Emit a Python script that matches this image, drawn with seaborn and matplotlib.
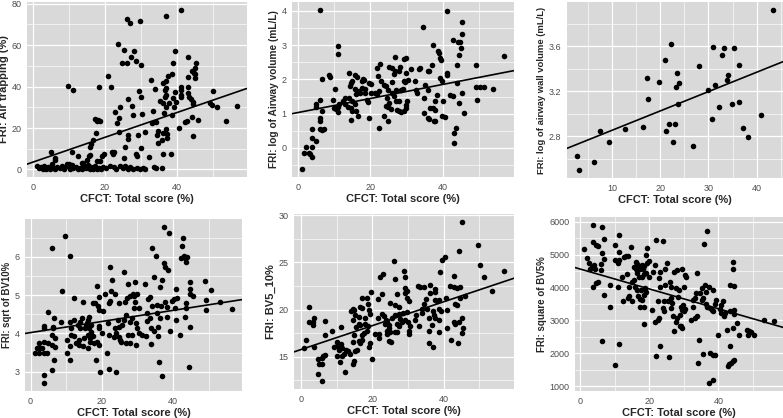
import numpy as np
import matplotlib
matplotlib.use("Agg")
import matplotlib.pyplot as plt
import seaborn as sns
from matplotlib.ticker import MultipleLocator

# (CFCT total score %, FRI value) pairs
air_trapping = [
    (41.2, 77), (37, 74), (26.2, 72.7), (26.9, 70.6), (29.6, 71.5), (23.5, 60.5), (25.2, 57.7),
    (28.1, 57.4), (39.5, 57.4), (27.3, 54.2), (43, 54.5), (24.8, 51.6), (26.1, 51.6), (28.7, 52.4),
    (30, 50.2), (39, 51.3), (45.3, 51.3), (45, 49), (44, 47.6), (44.6, 46.8), (45.1, 46), (38.7, 46),
    (43, 44.5), (45, 44), (37.4, 45), (37, 42.7), (9.9, 40.3), (11.1, 38.2), (18.5, 40), (21.7, 39.7),
    (21, 45.2), (32.8, 43), (33.9, 38.7), (29.5, 38.1), (30, 35.2), (36, 41.6), (37, 39.5), (36.6, 38.4),
    (39.5, 37.6), (41, 40), (41, 38.4), (43, 40), (43, 36.8), (43.3, 35.2), (43.9, 33.9), (44.3, 32.7),
    (44.5, 31.8), (41.2, 36), (41, 35.2), (38.9, 34.4), (39.6, 32.7), (39.2, 30), (37.7, 32.3),
    (37, 36), (35.4, 33.1), (36.1, 31.9), (36.9, 30.3), (36.6, 35.2), (26.3, 33.9), (27.6, 30.6),
    (24.3, 30), (22.9, 27.6), (33.2, 28.2), (36.5, 27.4), (27.9, 26.1), (30.2, 26.6), (23.8, 24.7),
    (23.3, 22.3), (17.4, 24.4), (18.1, 23.9), (17.9, 23.4), (18.6, 23.4), (33, 22.3), (34.3, 22.7),
    (37, 19.4), (40.4, 20.2), (44, 25.5), (45.7, 23.9), (42.3, 23.1), (42.7, 23.5), (38.7, 26.3),
    (50, 37.9), (49.2, 32), (49.7, 31), (51, 30), (56.6, 30.6), (53.6, 23.5), (44.5, 16.1),
    (34.5, 16.6), (34.7, 12.9), (34.8, 18.5), (37.3, 17.1), (36.1, 17.4), (37.2, 15), (35.8, 14.2),
    (36.2, 7.6), (38.3, 7.7), (32.3, 6.1), (31, 18.2), (29.2, 16.6), (26.4, 16.6), (24, 18.2),
    (26.4, 14.5), (30, 10.5), (28.5, 7.4), (29, 6.5), (25.5, 11), (22.6, 8.5), (21.9, 8.2),
    (22.3, 7.7), (25.2, 5.3), (19.8, 7.7), (19.3, 6.5), (18.7, 4), (17.9, 4), (16.6, 14.2),
    (16.2, 12.3), (16, 11), (17.5, 17.7), (15.6, 6.5), (16, 6.9), (15.1, 4.8), (13.7, 2.9),
    (12.5, 6.5), (11, 8.4), (10.2, 2.6), (10.6, 1.6), (9.4, 2.6), (5, 8.2), (6.1, 5.6), (6.1, 4.8),
    (33.5, 1), (35.7, 0.8), (34.2, 0.5),
    (1.2, 1.5), (1.8, 0.5), (2.3, 1.0), (2.8, 0.2), (3.2, 1.8), (3.6, 0.4), (4.2, 1.2), (4.8, 0.3),
    (5.5, 0.8), (6.3, 0.2), (6.8, 1.0), (7.5, 0.5), (8.8, 0.3), (9.5, 1.5), (10.3, 0.4), (10.8, 2.0),
    (11.3, 0.6), (12.0, 1.2), (12.6, 0.2), (13.2, 0.8), (13.8, 0.3), (14.3, 1.3), (14.8, 0.5),
    (15.3, 2.2), (15.8, 0.2), (16.2, 1.0), (16.7, 0.4), (17.2, 1.6), (17.7, 0.3), (18.3, 0.8),
    (18.9, 0.2), (19.5, 1.2), (20.2, 0.5), (22.5, 1.0), (23.2, 0.3), (24.2, 1.5), (25.0, 0.6),
    (25.7, 1.8), (26.3, 0.2), (27.0, 1.0), (27.8, 0.4), (28.8, 0.8), (29.6, 0.3), (30.5, 0.6),
    (31.2, 0.2), (5.3, 2.5), (8.0, 1.8), (14.0, 3.0), (21.5, 1.5),
]

airway_volume = [
    (6.1, 4.03), (41.2, 4.01), (45.3, 3.67), (34.4, 3.54), (45.3, 3.34), (42.9, 3.14), (44.2, 3.09),
    (44.7, 3.08), (45.1, 2.92), (44.3, 2.72), (56.8, 2.69), (11.1, 2.98), (11.1, 2.74), (37.2, 3.01),
    (38.6, 2.84), (38.8, 2.77), (39.3, 2.64), (39.4, 2.58), (26.7, 2.66), (29.8, 2.64), (29.2, 2.6),
    (22.8, 2.45), (49.2, 2.43), (44, 2.41), (36.9, 2.43), (36.2, 2.24), (33.7, 2.33), (33.3, 2.29),
    (35.8, 2.24), (28.3, 2.37), (27.8, 2.24), (25.1, 2.35), (26.1, 2.33), (26.9, 2.24), (26.6, 2.16),
    (21.8, 2.33), (14.2, 2.19), (15.8, 2.12), (16.3, 2.06), (17.7, 1.95), (18.1, 2.02), (18.3, 1.99),
    (8.7, 2.12), (9, 2.08), (6.7, 2), (10.2, 1.72), (31.3, 2.29), (29.8, 2.19), (29.4, 1.95),
    (29.6, 1.92), (30.4, 1.97), (32.2, 1.95), (41.1, 2.19), (41.2, 2.14), (39.3, 2.04), (39.7, 1.95),
    (43.8, 1.89), (49.2, 1.78), (50.3, 1.78), (51.2, 1.78), (53.7, 1.73), (45.2, 1.61), (44.5, 1.3),
    (49.5, 1.39), (45.7, 1.01), (42, 1.54), (42.8, 1.51), (38.5, 1.54), (40.1, 1.37), (37.9, 1.37),
    (35.1, 1.85), (34.7, 1.46), (35.9, 1.68), (32.6, 1.7), (32.9, 1.61), (37.3, 1.17), (37.7, 1.12),
    (36.5, 1.17), (34.7, 1.03), (35.9, 0.88), (36.3, 0.83), (37.5, 0.78), (37.9, 0.78), (39.7, 0.93),
    (40.5, 0.9), (43.6, 0.59), (43, 0.42), (43, 0.13), (25.9, 1.93), (23.9, 1.85), (24.3, 1.8),
    (23, 1.95), (22.1, 2.09), (19.7, 1.9), (20.2, 1.87), (20.2, 1.61), (21.2, 1.61), (22.3, 1.66),
    (21.8, 1.56), (25, 1.68), (25.9, 1.61), (27.2, 1.68), (28.5, 1.68), (28.9, 1.73), (26.4, 1.51),
    (27.2, 1.37), (27.8, 1.37), (24.6, 1.46), (25.2, 1.32), (24.3, 1.22), (24.9, 1.19), (25.7, 1.14),
    (23.9, 0.93), (24.9, 0.78), (22.5, 0.59), (27.3, 1.12), (28, 1.08), (28.5, 1.06), (29.2, 1.09),
    (29.8, 1.15), (29.8, 1.25), (30.1, 1.37), (19.4, 1.35), (19.1, 1.39), (19.5, 0.86), (17.2, 1.61),
    (16.8, 1.66), (15.7, 1.73), (14.8, 1.9), (15, 1.95), (14.5, 1.8), (16.1, 1.56), (17.7, 1.75),
    (18.4, 1.73), (18.6, 1.61), (14.2, 1.46), (15, 1.37), (15.9, 1.29), (12.9, 1.46), (12.4, 1.37),
    (13.1, 1.27), (13.8, 1.19), (14.8, 1.17), (15, 1.08), (16.1, 1.09), (16.6, 0.93), (14.8, 0.8),
    (11.5, 1.27), (11.1, 1.19), (9.9, 1.17), (10.6, 1.13), (11.1, 1.06), (9.6, 1.4), (4.9, 1.27),
    (5.1, 1.19), (6.2, 1.39), (6.7, 1.08), (6.2, 0.88), (6.2, 0.78), (6.2, 0.54), (6.7, 0.51),
    (7.2, 0.54), (3.8, 0.54), (4, 0.28), (4.9, 0.2), (2.3, 0.03), (3.8, 0.01), (1.8, -0.16),
    (3, -0.15), (3.5, -0.18), (3.8, -0.28), (1.2, -0.62),
]

wall_volume = [
    (2.74, 2.62), (3.23, 2.50), (6.2, 2.57), (7.5, 2.85), (9.5, 2.75), (12.8, 2.86), (16.5, 2.88),
    (17.2, 3.32), (17.5, 3.13), (19.8, 3.28), (21, 3.48), (21.3, 2.85), (21.9, 2.91), (22.2, 3.62),
    (22.6, 2.75), (23.1, 2.91), (23.3, 3.24), (23.4, 3.36), (23.6, 3.09), (24, 3.27), (26.7, 2.71),
    (28, 3.42), (30, 3.21), (30.7, 2.95), (30.9, 3.59), (31.4, 3.25), (32.1, 3.06), (32.9, 3.52),
    (33.2, 3.58), (33.8, 3.3), (34, 3.34), (34.8, 3.09), (35.3, 3.58), (36.3, 3.10), (36.4, 3.43),
    (37.2, 2.87), (38.1, 2.79), (40.8, 2.99), (43.4, 3.92),
]

sqrt_bv10 = [
    (9.8, 6.55), (37.4, 6.78), (38.8, 6.63), (6.0, 6.23), (11.1, 6.02), (34.1, 6.22), (35.3, 6.02),
    (37.5, 5.83), (37.7, 5.74), (38.6, 5.65), (42.8, 6.48), (42.6, 6.28), (43.1, 6.02), (43.5, 5.96),
    (43.9, 6.0), (42.3, 5.96), (43.7, 5.87), (22.2, 5.73), (26.1, 5.61), (34.7, 5.48), (37, 5.39),
    (23, 5.39), (18.7, 5.23), (27.4, 5.30), (29.2, 5.33), (32.2, 5.30), (49, 5.37), (44.9, 5.33),
    (44.9, 5.17), (50.7, 5.12), (40.9, 5.17), (36.4, 5.22), (8.7, 5.1), (12.2, 4.93), (22.6, 5.1),
    (23.7, 5.04), (20.9, 5.03), (19.3, 4.95), (18.1, 4.8), (17.4, 4.8), (14.6, 4.81), (18.9, 4.72),
    (19.3, 4.6), (20.2, 4.58), (21.9, 4.78), (22.3, 4.84), (24.9, 4.8), (26.5, 4.83), (27, 4.91),
    (28.7, 5.04), (29.1, 4.98), (29.8, 5.02), (27.9, 4.98), (29.3, 4.83), (30.4, 4.67), (29, 4.65),
    (33, 4.9), (33.5, 4.96), (35.5, 4.74), (34.2, 4.72), (36.7, 4.71), (37.7, 4.83), (38.4, 4.7),
    (39.8, 4.84), (40.3, 4.9), (41.1, 4.93), (40.5, 4.67), (43.7, 4.78), (43.7, 4.67), (44.9, 5.02),
    (45.5, 4.98), (49.3, 4.87), (49.2, 4.61), (53.2, 4.81), (56.6, 4.63), (40.8, 4.35), (38.3, 4.43),
    (36.3, 4.39), (35.6, 4.52), (33.5, 4.39), (32.6, 4.52), (32.6, 4.32), (43.5, 4.43), (44.8, 4.17),
    (39.1, 4.06), (41.9, 3.97), (35.9, 4.17), (33.8, 4.13), (34.7, 4.07), (35.9, 3.94), (32.4, 3.93),
    (33.8, 3.71), (29.6, 4.26), (29.8, 4.13), (30.5, 4.02), (31.2, 3.97), (28.4, 4.39), (27.9, 4.3),
    (26.7, 4.48), (26.2, 4.35), (25.8, 4.22), (24.5, 4.35), (24.8, 4.17), (23.7, 4.13), (23.9, 4.0),
    (24.8, 3.91), (23.5, 3.91), (25.1, 3.83), (25.3, 3.77), (26.7, 3.74), (27.9, 3.74), (29.5, 3.7),
    (27.4, 3.96), (28.4, 3.96), (21.7, 4.26), (22.1, 3.96), (21.4, 3.48), (19.1, 4.2), (19.3, 4.13),
    (20, 4), (18.6, 3.78), (19.3, 3.7), (18.4, 3.3), (19.6, 3.0), (22.0, 3.07), (24, 2.98),
    (16.5, 4.43), (16.1, 4.35), (15.8, 4.26), (17, 4.23), (15.5, 4.2), (16.5, 4.13), (17, 4.04),
    (16.1, 3.97), (17.4, 3.94), (16.7, 3.87), (16.7, 3.78), (17.7, 3.74), (14.9, 3.87), (15.2, 4.13),
    (14.4, 4.39), (14, 4.3), (13.3, 4.23), (14, 4.13), (13.5, 3.83), (12.7, 3.74), (13.5, 3.7),
    (14.6, 3.67), (16.1, 3.61), (12.1, 4.35), (11, 4.3), (11.4, 4.13), (11.3, 3.96), (12.3, 3.94),
    (10.2, 3.83), (11.2, 3.68), (10.1, 3.48), (11.2, 3.3), (8.4, 4.3), (6.5, 4.41), (6.2, 4.17),
    (6.2, 4.13), (6, 3.96), (6.8, 3.87), (5.9, 3.7), (6.8, 3.65), (4.9, 4.55), (4.9, 3.74),
    (3.7, 4.2), (3.7, 4.13), (3.7, 3.78), (2.5, 3.74), (1.9, 3.63), (2.5, 3.63), (3.1, 3.61),
    (1.2, 3.48), (2.5, 3.48), (3.7, 3.48), (4.7, 3.5), (6.7, 3.3), (6, 3.04), (3.7, 2.91), (3.7, 2.7),
    (36, 3.24), (36.9, 2.9), (44.4, 3.11),
]

bv5_10 = [
    (45.1, 29.3), (49.5, 26.9), (44.2, 26.2), (40.3, 25.6), (39.5, 25.3), (26, 25.2), (50.1, 24.7),
    (56.9, 24.1), (39.1, 24.0), (28.8, 24.1), (26.5, 23.2), (29.3, 23.4), (51.2, 23.4), (23.1, 23.8),
    (22.3, 23.4), (42.9, 23.6), (19.7, 21.9), (22.6, 21.6), (21.6, 21.1), (29.3, 22.3), (29.7, 22.0),
    (29.3, 21.8), (32.7, 22.5), (33.5, 22.4), (34.6, 22.4), (36.3, 22.6), (37.7, 22.2), (37.7, 21.9),
    (36.3, 21.8), (41.9, 22.5), (42.8, 22.4), (43.7, 22.3), (44.6, 22.4), (53.5, 22.0), (45.9, 21.4),
    (44.7, 21.2), (40.6, 21.2), (35.1, 21.1), (37.5, 21.0), (38.6, 21.0), (38, 20.9), (27, 21.6),
    (29.8, 21.2), (30.2, 20.9), (26.5, 20.5), (27.4, 20.3), (25.1, 20.7), (17.2, 21.2), (18.4, 21.2),
    (18.9, 20.6), (16.7, 20.3), (17.2, 20.2), (14.6, 20.1), (14.9, 19.9), (14, 19.8), (2.3, 20.3),
    (15.3, 19.4), (19.1, 19.9), (19.5, 19.5), (16.3, 19.2), (18.1, 19.1), (14.6, 18.9), (3.7, 19.1),
    (3.5, 18.7), (2.3, 18.7), (6.8, 18.8), (3.5, 18.4), (8.8, 17.7), (6.8, 17.3), (11.2, 18.1),
    (16.3, 18.5), (16.7, 18.4), (15.5, 18.1), (18.1, 18.5), (18.8, 18.2), (18.6, 17.7), (17.7, 17.5),
    (17.1, 17.3), (17.2, 16.8), (16.3, 16.7), (16.7, 16.4), (14.9, 17.3), (14.6, 16.6), (15.8, 15.7),
    (15.3, 15.6), (19.5, 16.4), (19.1, 16.0), (19.8, 14.7), (20.9, 17.4), (22, 17.4), (21.9, 17.0),
    (21.7, 19.1), (22.8, 19.5), (23.4, 19.3), (23.9, 18.9), (24.2, 18.7), (23.5, 18.5), (24.7, 18.4),
    (24.8, 18.0), (24, 17.7), (24.2, 17.4), (25.1, 17.6), (24.8, 16.7), (25.3, 16.5), (25.6, 19.1),
    (26.5, 19.4), (27.4, 19.5), (27.9, 19.0), (26.9, 18.5), (27.6, 18.3), (26.3, 17.6), (26.9, 17.6),
    (28.2, 18.7), (28.6, 19.6), (29.8, 19.7), (29.1, 18.9), (30.0, 18.7), (30.7, 18.3), (30.2, 17.7),
    (30.2, 17.4), (32.3, 19.4), (32.1, 18.9), (33, 18.2), (34, 19.6), (33.8, 20.1), (34.6, 20.6),
    (35.3, 20.1), (35.8, 19.1), (36.9, 19.8), (37.2, 19.4), (37.7, 19.1), (38.6, 18.9), (39.2, 19.8),
    (38.6, 20.1), (35.8, 17.7), (36.7, 18.4), (36, 16.4), (37, 16.0), (38.6, 17.6), (40.9, 18.0),
    (42.1, 16.8), (42.8, 18.7), (43.3, 18.5), (43.9, 16.4), (44.2, 18.7), (45.1, 19.1), (45.3, 18.0),
    (45.1, 17.5), (40.9, 19.9), (43.7, 20.5), (43.1, 20.6), (1.4, 16.8), (0.9, 15.9), (3.7, 16.0),
    (4.9, 14.7), (5.9, 14.8), (5.1, 14.2), (6, 14.2), (6.8, 15.2), (6.2, 15.1), (4.9, 13.1),
    (6.0, 12.4), (10, 16.6), (10.2, 16.1), (11.2, 16.3), (11.6, 15.9), (10.7, 15.7), (12.1, 15.3),
    (12.7, 15.7), (13.3, 15.6), (13.7, 15.3), (10.9, 14.4), (11.4, 15.1), (14.6, 14.2), (14.9, 14.5),
    (12.4, 13.4), (10.2, 15.1), (9.3, 16.0),
]

square_bv5 = [
    (3.7, 5899), (6.3, 5848), (36.8, 5727), (6.8, 5465), (3.7, 5374), (4.6, 5293), (5.2, 5263),
    (10.2, 5293), (11.2, 5596), (1.3, 5182), (14.8, 5222), (22.1, 5444), (23.9, 5424), (35.7, 5323),
    (19.5, 5212), (11.2, 5091), (6.3, 5041), (2.1, 4889), (2.6, 4738), (3.4, 4637), (4.0, 4687),
    (4.3, 4556), (2.8, 4556), (6.8, 4859), (6.0, 4717), (6.1, 4536), (10.0, 4839), (11.2, 4839),
    (10.9, 4758), (12.7, 4940), (13.4, 4970), (13.9, 4970), (19.0, 4990), (19.8, 4818), (19.5, 4738),
    (16.1, 4788), (16.6, 4717), (17.0, 4657), (15.6, 4637), (16.1, 4556), (17.3, 4556), (17.8, 4687),
    (18.5, 4657), (18.3, 4556), (21.7, 4687), (25.1, 4738), (24.7, 4556), (23.1, 4485), (21.1, 4485),
    (19.1, 4455), (16.6, 4435), (17.0, 4334), (17.8, 4334), (18.5, 4404), (19.8, 4334), (13.7, 4404),
    (12.2, 4334), (15.1, 4182), (15.6, 4233), (14.3, 4010), (15.8, 4010), (16.4, 3929), (17.6, 3929),
    (18.8, 3980), (19.2, 3879), (18.5, 3778), (16.8, 3748), (17.3, 3647), (18.0, 3626), (14.3, 3748),
    (13.9, 3677), (12.5, 3576), (14.9, 3576), (17.3, 3424), (18.4, 3424), (3.9, 4030), (4.5, 4132),
    (5.2, 4182), (10.9, 4030), (6.8, 3778), (8.8, 4081), (8.8, 3424), (6.3, 2364), (11.2, 2285),
    (10.0, 1650), (22.9, 4283), (23.1, 4030), (24.7, 4081), (25.9, 4182), (26.3, 4030), (27.3, 4485),
    (28.1, 4536), (29.5, 4566), (30.2, 4384), (30.7, 4334), (33.7, 4435), (27.8, 3980), (28.5, 3929),
    (29.9, 4030), (28.3, 3707), (26.3, 3677), (25.4, 3576), (24.4, 3576), (22.4, 3606), (20.8, 3303),
    (23.9, 3374), (24.4, 3273), (22.7, 3071), (21.7, 2940), (22.4, 3020), (26.2, 3374), (26.6, 3526),
    (27.0, 3142), (27.6, 2940), (28.0, 3071), (28.8, 3172), (29.3, 3424), (29.6, 3323), (29.8, 3475),
    (30.2, 3344), (29.9, 3273), (29.3, 2819), (29.6, 2768), (28.8, 2839), (32.2, 3020), (33.2, 3071),
    (33.7, 3122), (32.5, 3424), (32.7, 3626), (33.2, 3677), (33.5, 3848), (34.6, 3848), (35.1, 3980),
    (36.1, 4081), (36.4, 3879), (35.6, 3677), (35.1, 3626), (36.4, 3505), (36.8, 3424), (37.6, 3374),
    (38.0, 3323), (38.5, 3273), (39.0, 3505), (39.3, 3626), (38.3, 3929), (37.3, 4030), (40.7, 3475),
    (40.3, 3344), (40.7, 3222), (41.5, 3122), (41.9, 3222), (41.2, 3576), (44.2, 4556), (43.4, 4081),
    (44.6, 4051), (44.2, 4788), (43.4, 3273), (44.6, 3323), (44.6, 3202), (45.4, 2920), (42.6, 2718),
    (44.2, 2768), (39.8, 2566), (34.4, 2415), (35.6, 1990), (37.6, 2010), (38.3, 1960), (39.0, 1960),
    (34.1, 1700), (43.4, 2213), (42.7, 1620), (43.1, 1680), (43.6, 1720), (44.2, 1760), (44.6, 1790),
    (37.3, 1101), (38.5, 1182), (27.3, 2667), (22.1, 1930), (23.1, 2233), (25.8, 1880), (18.5, 2900),
    (45.9, 2566), (48.3, 2718), (48.8, 2667), (49.3, 2637), (48.5, 2566), (50.2, 2546), (53.2, 3020),
    (55.9, 2970),
]

# fitted lines as drawn in the figure: intercept and slope
fit_intercept = [3.5, 1.03, 2.68, 4.02, 15.74, 4562]
fit_slope = [0.60, 0.0206, 0.0172, 0.0145, 0.127, -30.2]

x_label = "CFCT: Total score (%)"
y_labels = ["FRI: Air trapping (%)", "FRI: log of Airway volume (mL/L)",
            "FRI: log of airway wall volume (mL/L)", "FRI: sqrt of BV10%",
            "FRI: BV5_10%", "FRI: square of BV5%"]
y_label_sizes = [8.0, 7.3, 6.8, 6.9, 8.0, 7.0]

sns.set_style("darkgrid", {"axes.facecolor": "#D9D9D9", "grid.color": "white"})
plt.rcParams["font.family"] = ["Liberation Sans", "DejaVu Sans"]

fig = plt.figure(figsize=(7.83, 4.18), dpi=100)
W, H = 783, 418
# panel boxes in pixels: left, right, top, bottom
boxes = [(27, 247, 2, 177), (292, 514, 2, 177), (567, 783, 2, 178),
         (25, 242, 219, 391), (294, 514, 214, 389), (575, 783, 217, 391)]
# (x major, x minor, y major, y minor) tick steps
steps = [(20, 10, 20, 10), (20, 10, 1, 0.5), (10, 5, 0.4, 0.2),
         (20, 10, 1, 0.5), (20, 10, 5, 2.5), (20, 10, 1000, 500)]
datasets = [air_trapping, airway_volume, wall_volume, sqrt_bv10, bv5_10, square_bv5]


def expand(v):
    lo, hi = min(v), max(v)
    d = (hi - lo) * 0.05
    return lo - d, hi + d


for i, data in enumerate(datasets):
    l, r, t, b = boxes[i]
    st = steps[i]
    ax = fig.add_axes([l / W, 1 - b / H, (r - l) / W, (b - t) / H])
    x = np.array([p[0] for p in data])
    y = np.array([p[1] for p in data])
    xl, yl = expand(x), expand(y)
    sns.scatterplot(x=x, y=y, ax=ax, color="black", s=16, linewidth=0, zorder=3)
    ax.axline((0, fit_intercept[i]), slope=fit_slope[i], color="black", lw=1.2, zorder=4)
    ax.set_xlim(xl)
    ax.set_ylim(yl)
    ax.xaxis.set_major_locator(MultipleLocator(st[0]))
    ax.xaxis.set_minor_locator(MultipleLocator(st[1]))
    ax.yaxis.set_major_locator(MultipleLocator(st[2]))
    ax.yaxis.set_minor_locator(MultipleLocator(st[3]))
    ax.grid(which="major", color="white", lw=0.9)
    ax.grid(which="minor", color="white", lw=0.45)
    ax.tick_params(which="major", length=2.5, width=0.7, color="#333333",
                   labelsize=6.5, labelcolor="#4D4D4D", pad=1.5)
    ax.tick_params(which="minor", length=0)
    for s in ax.spines.values():
        s.set_visible(False)
    ax.set_xlabel(x_label, fontsize=8, fontweight="bold", labelpad=2)
    ax.set_ylabel(y_labels[i], fontsize=y_label_sizes[i], fontweight="bold", labelpad=2)

fig.savefig("out.png", dpi=100)
